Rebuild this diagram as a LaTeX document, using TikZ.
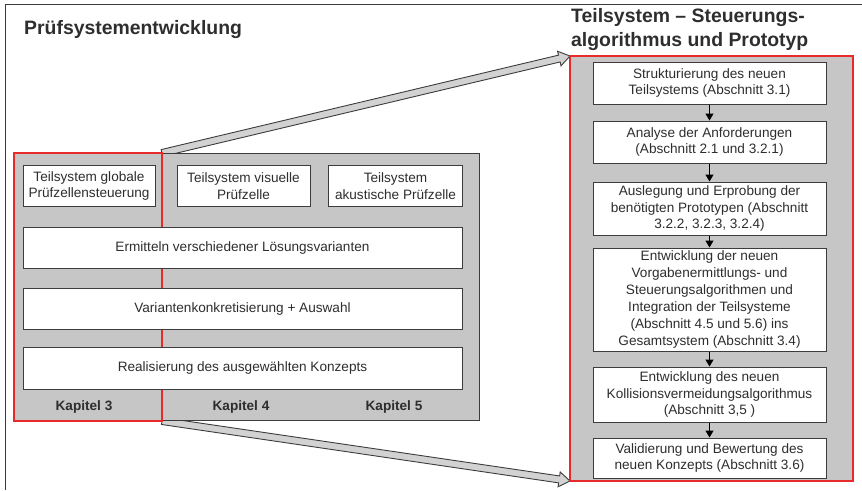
\documentclass[tikz,border=0pt]{standalone}
\usepackage{fontspec}
\setmainfont{Liberation Sans}
\usetikzlibrary{calc,arrows.meta}

\definecolor{txt}{HTML}{2E2E2E}
\definecolor{edge}{HTML}{3C3C3C}
\definecolor{panelgray}{HTML}{C6C6C6}
\definecolor{arrowgray}{HTML}{D2D2D2}
\definecolor{mark}{HTML}{E82A2A}

\tikzset{
  panel/.style={draw=edge, line width=1pt, fill=panelgray, inner sep=0pt},
  redframe/.style={draw=mark, line width=2pt, inner sep=0pt},
  textbox/.style={draw=edge, line width=1pt, fill=white, text=txt, align=center,
    inner sep=0pt, font=\fontsize{13.6}{16.9}\selectfont},
  chapter/.style={text=txt, font=\bfseries\fontsize{13.6}{16}\selectfont},
  heading/.style={text=txt, font=\bfseries\fontsize{19.4}{24}\selectfont, align=left, inner sep=0pt},
  flow/.style={draw=black, line width=1.2pt, -{Triangle[width=8pt,length=7pt]}},
  bigarrow/.style={draw=edge, line width=0.9pt, fill=arrowgray, line join=miter}
}

\begin{document}
\begin{tikzpicture}[x=1pt,y=-1pt]
\useasboundingbox (0,0) rectangle (862,490);

% page frame (top and left rule)
\draw[edge, line width=1pt] (862,4) -- (5,4) -- (5,490);

% headings
\node[heading, anchor=west] (lefttitle) at (24,30) {Prüfsystementwicklung};
\node[heading, anchor=west] (righttitle) at (571,30) {Teilsystem – Steuerungs-\\algorithmus und Prototyp};

% anchors of the two frames, needed for the connecting arrows
\coordinate (selNE) at (162,153);
\coordinate (selSE) at (162,421);
\coordinate (detNW) at (570,56);
\coordinate (detSW) at (570,481);

% hollow connecting arrows (drawn first, the panels cover their tails)
\foreach \a/\b/\n in {selNE/detNW/up, selSE/detSW/dn}{
  \coordinate (h\n) at ($(\b)!11pt!(\a)$);
  \filldraw[bigarrow]
    ($(\a)!3.5pt!90:(\b)$) -- ($(h\n)!3.5pt!90:(\b)$) -- ($(h\n)!7.5pt!90:(\b)$)
    -- (\b) -- ($(h\n)!7.5pt!-90:(\b)$) -- ($(h\n)!3.5pt!-90:(\b)$)
    -- ($(\a)!3.5pt!-90:(\b)$) -- cycle;
}

% left panel: development of the test system
\node[panel, minimum width=465pt, minimum height=267pt] (overview) at (246.5,286.5) {};
% red frame of the selected subsystem, lying under the white boxes
\node[redframe, minimum width=148pt, minimum height=268pt] (sel) at (88,287) {};
\node[textbox, minimum width=132pt, minimum height=41pt] (gps) at (89,186)
  {Teilsystem globale\\Prüfzellensteuerung};
\node[textbox, minimum width=133pt, minimum height=41pt] (vis) at (243.5,186)
  {Teilsystem visuelle\\Prüfzelle};
\node[textbox, minimum width=134pt, minimum height=41pt] (aku) at (395.5,186)
  {Teilsystem\\akustische Prüfzelle};
\node[textbox, minimum width=439pt, minimum height=41pt] (erm) at (242.5,247.5)
  {Ermitteln verschiedener Lösungsvarianten};
\node[textbox, minimum width=439pt, minimum height=41pt] (var) at (242.5,308.5)
  {Variantenkonkretisierung + Auswahl};
\node[textbox, minimum width=439pt, minimum height=42pt] (rea) at (242.5,368)
  {Realisierung des ausgewählten Konzepts};
\node[chapter] (k3) at (84,407) {Kapitel 3};
\node[chapter] (k4) at (241,407) {Kapitel 4};
\node[chapter] (k5) at (394,407) {Kapitel 5};

% right panel: subsystem control algorithm and prototype
\node[redframe, fill=panelgray, minimum width=283pt, minimum height=425pt] (detail) at (711.5,268.5) {};
\node[textbox, minimum width=233pt, minimum height=42pt] (s1) at (709.5,83)
  {Strukturierung des neuen\\Teilsystems (Abschnitt 3.1)};
\node[textbox, minimum width=233pt, minimum height=42pt] (s2) at (709.5,142)
  {Analyse der Anforderungen\\(Abschnitt 2.1 und 3.2.1)};
\node[textbox, minimum width=233pt, minimum height=53pt] (s3) at (709.5,208.5)
  {Auslegung und Erprobung der\\benötigten Prototypen (Abschnitt\\3.2.2, 3.2.3, 3.2.4)};
\node[textbox, minimum width=233pt, minimum height=103pt] (s4) at (709.5,299.5)
  {Entwicklung der neuen\\Vorgabenermittlungs- und\\Steuerungsalgorithmen und\\Integration der Teilsysteme\\(Abschnitt 4.5 und 5.6) ins\\Gesamtsystem (Abschnitt 3.4)};
\node[textbox, minimum width=233pt, minimum height=55pt] (s5) at (709.5,394.5)
  {Entwicklung des neuen\\Kollisionsvermeidungsalgorithmus\\(Abschnitt 3,5 )};
\node[textbox, minimum width=233pt, minimum height=40pt] (s6) at (709.5,458)
  {Validierung und Bewertung des\\neuen Konzepts (Abschnitt 3.6)};

\draw[flow] (s1) -- (s2);
\draw[flow] (s2) -- (s3);
\draw[flow] (s3) -- (s4);
\draw[flow] (s4) -- (s5);
\draw[flow] (s5) -- (s6);
\end{tikzpicture}
\end{document}
